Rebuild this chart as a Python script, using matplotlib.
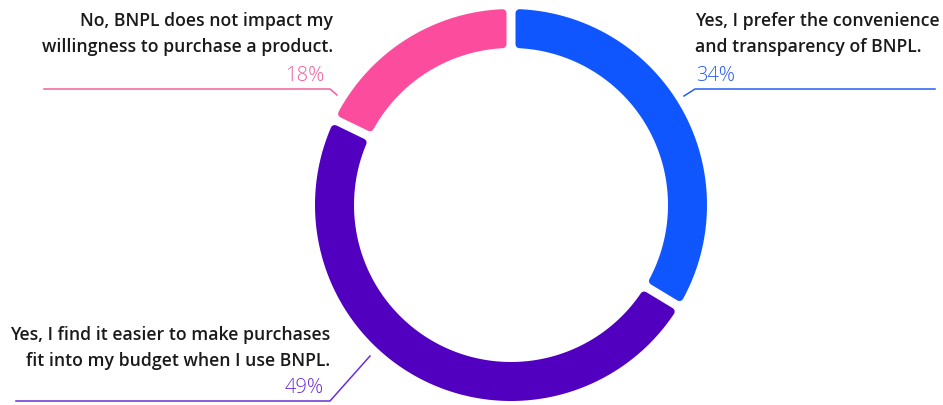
import numpy as np
import matplotlib.pyplot as plt
from matplotlib.patches import Polygon

labels = ["Yes, I prefer the convenience\nand transparency of BNPL.",
          "Yes, I find it easier to make purchases\nfit into my budget when I use BNPL.",
          "No, BNPL does not impact my\nwillingness to purchase a product."]
values = [34, 49, 18]
colors = ["#1056FF", "#5100C0", "#FC4C9D"]
pct_colors = ["#2A5CF2", "#6A2FD6", "#F0609F"]

fig = plt.figure(figsize=(9.43, 4.05), dpi=100)
ax = fig.add_axes([0, 0, 1, 1])
ax.set_xlim(0, 943)
ax.set_ylim(405, 0)
ax.axis("off")

cx, cy = 511, 205
r_out, r_in = 196, 157
corner = 4      # px radius of the rounded corners
gap = 9         # px gap between segments
h = gap / 2 + corner
ro, ri = r_out - corner, r_in + corner


def pt(r, a):
    return cx + r * np.cos(np.radians(a)), cy - r * np.sin(np.radians(a))


start = 90.0
for v, c in zip(values, colors):
    span = v / sum(values) * 360
    a1, a2 = start, start - span
    do = np.degrees(np.arcsin(h / ro))
    di = np.degrees(np.arcsin(h / ri))
    outer = [pt(ro, a) for a in np.linspace(a1 - do, a2 + do, 120)]
    inner = [pt(ri, a) for a in np.linspace(a2 + di, a1 - di, 120)]
    poly = Polygon(outer + inner, closed=True, facecolor=c, edgecolor=c,
                   linewidth=corner * 2 * 72 / 100, joinstyle="round")
    ax.add_patch(poly)
    start = a2

lab_font = dict(family="Open Sans", weight="semibold", fontsize=12.7, color="#1a1a1a")
pct_font = dict(family="Open Sans", weight="light", fontsize=14.5)


def label(x, y, txt, ha):
    # one text per line so the line pitch matches
    for k, line in enumerate(txt.split("\n")):
        ax.text(x, y + k * 26.5, line, ha=ha, va="baseline", **lab_font)


# blue (right, top)
label(695, 26, labels[0], "left")
ax.text(696, 81, f"{values[0]}%", ha="left", va="baseline", color=pct_colors[0], **pct_font)
ax.plot([684, 695, 935], [96, 89, 89], color=pct_colors[0], lw=1.1)

# pink (left, top)
label(333, 26, labels[2], "right")
ax.text(324, 81, f"{values[2]}%", ha="right", va="baseline", color=pct_colors[2], **pct_font)
ax.plot([44, 330, 337], [89, 89, 95], color=pct_colors[2], lw=1.1)

# purple (left, bottom)
label(330, 340, labels[1], "right")
ax.text(324, 393, f"{values[1]}%", ha="right", va="baseline", color=pct_colors[1], **pct_font)
ax.plot([16, 330, 370], [401, 401, 356], color=pct_colors[1], lw=1.1)

fig.savefig("out.png", dpi=100)
